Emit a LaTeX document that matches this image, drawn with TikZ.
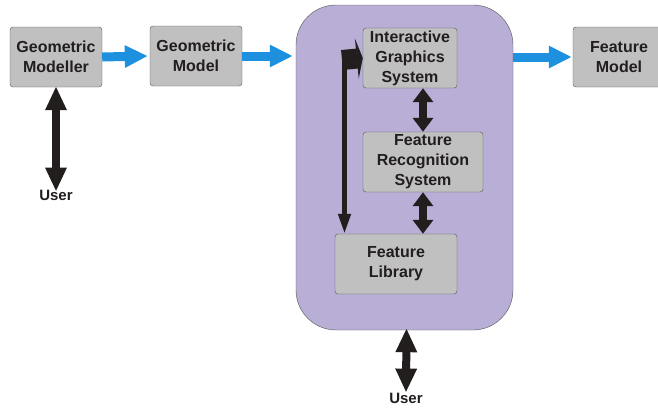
\documentclass[tikz,border=0pt]{standalone}
\usepackage{fontspec}
\setmainfont{Liberation Sans}
\usepackage{xcolor}
\usepackage{tikz}
\usetikzlibrary{arrows.meta}

\definecolor{boxfill}{RGB}{192,192,192}
\definecolor{boxline}{RGB}{85,85,85}
\definecolor{shellfill}{RGB}{184,174,214}
\definecolor{flowblue}{RGB}{30,144,224}
\definecolor{ink}{RGB}{34,30,30}

\begin{document}
\begin{tikzpicture}[x=1pt, y=-1pt,
    box/.style={draw=boxline, fill=boxfill, rounded corners=3pt, align=center, minimum height=60pt, inner sep=1pt, text=ink, font=\bfseries\fontsize{16}{20}\selectfont},
    shell/.style={draw=boxline, fill=shellfill, rounded corners=40pt, minimum width=217pt, minimum height=325pt},
    who/.style={inner sep=1pt, text=ink, font=\bfseries\fontsize{15}{18}\selectfont},
    flow/.style={draw=flowblue, line width=9pt, -{Triangle[width=21pt,length=23pt]}},
    duplex/.style={draw=ink, line width=8pt, {Triangle[width=20pt,length=14pt]}-{Triangle[width=20pt,length=14pt]}},
    userlink/.style={draw=ink, line width=8pt, {Triangle[width=20pt,length=24pt]}-{Triangle[width=20pt,length=24pt]}},
    libarrow/.style={draw=ink, line width=4.5pt, -{Triangle[width=12pt,length=20pt]}},
    fatarrow/.style={draw=ink, line width=20pt, -{Triangle[width=40pt,length=6pt]}}
]
    \useasboundingbox (0,0) rectangle (658,407);

    \node (gmod) [box, minimum width=92pt] at (56,57) {Geometric\\Modeller};
    \node (gmodel) [box, minimum width=92pt] at (196,56) {Geometric\\Model};
    \node (shell) [shell] at (404.5,167.5) {};
    \node (igs) [box, minimum width=94pt] at (410,58) {Interactive\\Graphics\\System};
    \node (frs) [box, minimum width=120pt] at (423,162) {Feature\\Recognition\\System};
    \node (flib) [box, minimum width=122pt] at (396,264) {Feature\\Library};
    \node (fmodel) [box, minimum width=92pt] at (619,57) {Feature\\Model};
    \node (user1) [who] at (56,195) {User};
    \node (user2) [who] at (406,398) {User};

    % data flow
    \draw [flow] (gmod.east) -- ([xshift=-2pt]gmodel.west);
    \draw [flow] (gmodel.east) -- ([xshift=-3pt]gmodel.east -| shell.west);
    \draw [flow] (shell.east |- fmodel) -- ([xshift=-1pt]fmodel.west);

    % links inside the system
    \draw [duplex] (igs.south -| frs.north) -- (frs.north);
    \draw [duplex] (frs.south) -- (frs.south |- flib.north);
    \coordinate (turn) at (342,60);
    \draw [libarrow] ([xshift=2.5pt]turn) -- ([xshift=2.5pt]turn |- flib.north);
    \draw [fatarrow] (turn) -- (igs.west);

    % users
    \draw [userlink] ([yshift=1pt]gmod.south) -- ([yshift=-3pt]user1.north);
    \draw [userlink] ([xshift=2pt,yshift=2pt]shell.south) -- ([yshift=-1pt]user2.north);
\end{tikzpicture}
\end{document}
